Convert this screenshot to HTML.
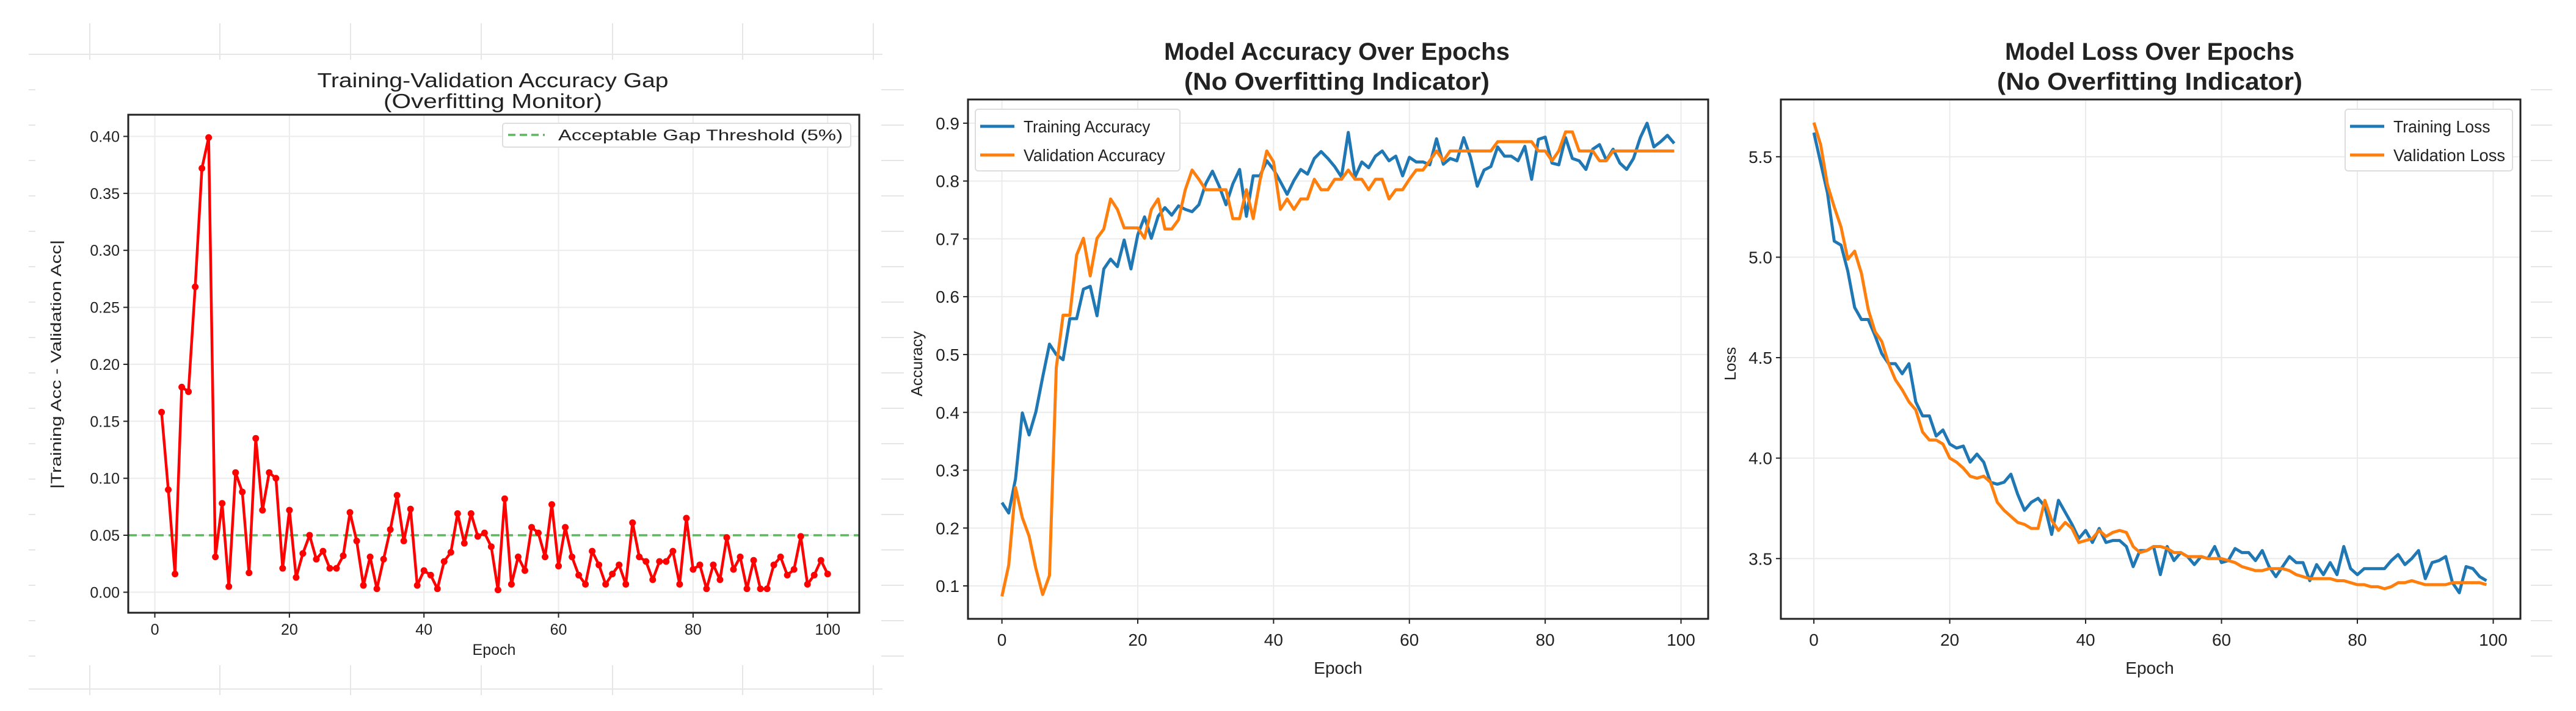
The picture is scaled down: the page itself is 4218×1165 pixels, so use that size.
<!DOCTYPE html>
<html><head><meta charset="utf-8"><style>
html,body{margin:0;padding:0;background:#fff}
svg{display:block}
text{font-family:"Liberation Sans","DejaVu Sans",sans-serif;fill:#222}
</style></head><body>
<svg id="root" width="4218" height="1165" viewBox="0 0 4218 1165" xmlns="http://www.w3.org/2000/svg">
<g id="deco"></g>
<g id="p1"></g>
<g id="p2"></g>
<g id="p3"></g>
</svg>
<script>
const gapEpochs = Array.from({length:100},(_,i)=>i+1);
const gapValues = [0.158,0.090,0.016,0.180,0.176,0.268,0.372,0.399,0.031,0.078,0.005,0.105,0.088,0.017,0.135,0.072,0.105,0.100,0.021,0.072,0.013,0.034,0.050,0.029,0.036,0.021,0.021,0.032,0.070,0.045,0.006,0.031,0.003,0.029,0.055,0.085,0.045,0.073,0.006,0.019,0.015,0.003,0.027,0.035,0.069,0.043,0.069,0.049,0.052,0.040,0.002,0.082,0.007,0.031,0.019,0.057,0.052,0.031,0.077,0.023,0.057,0.031,0.015,0.007,0.036,0.024,0.007,0.016,0.024,0.007,0.061,0.031,0.027,0.011,0.027,0.027,0.036,0.007,0.065,0.020,0.024,0.003,0.024,0.011,0.048,0.020,0.031,0.003,0.028,0.003,0.003,0.024,0.031,0.015,0.020,0.049,0.007,0.015,0.028,0.016];
const gapThreshold = 0.05;
const gapYTicks = [0,0.05,0.10,0.15,0.20,0.25,0.30,0.35,0.40];
const epochTicks = [0,20,40,60,80,100];
const epochs = Array.from({length:100},(_,i)=>i);
const trainAcc = [0.244,0.226,0.285,0.399,0.361,0.401,0.461,0.518,0.500,0.491,0.562,0.562,0.613,0.618,0.567,0.648,0.665,0.652,0.698,0.648,0.707,0.738,0.701,0.739,0.754,0.741,0.757,0.751,0.747,0.759,0.795,0.817,0.791,0.759,0.795,0.820,0.739,0.809,0.809,0.835,0.820,0.799,0.777,0.801,0.820,0.812,0.839,0.851,0.839,0.825,0.807,0.884,0.807,0.833,0.823,0.843,0.852,0.835,0.843,0.809,0.841,0.833,0.833,0.828,0.873,0.829,0.839,0.835,0.875,0.841,0.791,0.819,0.825,0.859,0.843,0.843,0.835,0.860,0.803,0.872,0.876,0.831,0.828,0.875,0.839,0.835,0.820,0.855,0.863,0.836,0.855,0.831,0.820,0.839,0.875,0.900,0.859,0.868,0.879,0.865];
const valAcc = [0.082,0.136,0.270,0.218,0.186,0.130,0.085,0.118,0.477,0.568,0.568,0.672,0.701,0.636,0.701,0.717,0.769,0.751,0.719,0.719,0.719,0.701,0.751,0.769,0.717,0.717,0.733,0.785,0.819,0.803,0.785,0.785,0.785,0.785,0.735,0.735,0.785,0.735,0.801,0.852,0.833,0.751,0.769,0.751,0.769,0.769,0.803,0.785,0.785,0.803,0.803,0.819,0.803,0.803,0.785,0.803,0.803,0.769,0.785,0.785,0.803,0.819,0.819,0.835,0.852,0.835,0.852,0.852,0.852,0.852,0.852,0.852,0.852,0.868,0.868,0.868,0.868,0.868,0.868,0.852,0.852,0.835,0.852,0.885,0.885,0.852,0.852,0.852,0.835,0.835,0.852,0.852,0.852,0.852,0.852,0.852,0.852,0.852,0.852,0.852];
const accYTicks = [0.1,0.2,0.3,0.4,0.5,0.6,0.7,0.8,0.9];
const trainLoss = [5.62,5.47,5.32,5.08,5.06,4.93,4.75,4.69,4.69,4.61,4.52,4.47,4.47,4.42,4.47,4.28,4.21,4.21,4.11,4.14,4.07,4.05,4.06,3.98,4.02,3.98,3.88,3.87,3.88,3.92,3.82,3.74,3.78,3.80,3.76,3.62,3.79,3.73,3.67,3.60,3.64,3.58,3.65,3.58,3.59,3.59,3.56,3.46,3.54,3.54,3.56,3.42,3.56,3.49,3.53,3.51,3.47,3.51,3.50,3.56,3.48,3.49,3.55,3.53,3.53,3.49,3.54,3.46,3.41,3.46,3.51,3.48,3.48,3.39,3.47,3.42,3.48,3.42,3.56,3.45,3.42,3.45,3.45,3.45,3.45,3.49,3.52,3.47,3.50,3.54,3.40,3.48,3.49,3.51,3.38,3.33,3.46,3.45,3.41,3.39];
const valLoss = [5.67,5.56,5.36,5.25,5.15,4.99,5.03,4.92,4.74,4.63,4.58,4.47,4.39,4.34,4.28,4.24,4.13,4.09,4.09,4.07,4.00,3.98,3.95,3.91,3.90,3.91,3.88,3.78,3.74,3.71,3.68,3.67,3.65,3.65,3.79,3.69,3.64,3.68,3.65,3.58,3.59,3.60,3.64,3.61,3.63,3.64,3.63,3.56,3.53,3.54,3.56,3.56,3.55,3.53,3.53,3.51,3.51,3.51,3.50,3.50,3.50,3.49,3.48,3.46,3.45,3.44,3.44,3.45,3.45,3.45,3.44,3.42,3.41,3.40,3.40,3.40,3.40,3.39,3.39,3.38,3.37,3.37,3.36,3.36,3.35,3.36,3.38,3.38,3.39,3.38,3.37,3.37,3.37,3.37,3.38,3.38,3.38,3.38,3.38,3.37];
const lossYTicks = [3.5,4.0,4.5,5.0,5.5];

const NS="http://www.w3.org/2000/svg";
function mk(parent,tag,attrs,txt){const e=document.createElementNS(NS,tag);for(const k in attrs)e.setAttribute(k,attrs[k]);if(txt!==undefined)e.textContent=txt;parent.appendChild(e);return e;}

const deco=document.getElementById('deco');
[89,1129].forEach(y=>{const l=mk(deco,'line',{x1:47,x2:1445,y1:y,y2:y,stroke:'#e6e6e6','stroke-width':2});

});
[147,360,574,788,1003,1216,1430].forEach(x=>{[[38,98],[1090,1139]].forEach(r=>{const l=mk(deco,'line',{x1:x,x2:x,y1:r[0],y2:r[1],stroke:'#e6e6e6','stroke-width':2});

});});
for(let y=147;y<1080;y+=58){[[47,58],[1443,1480],[4144,4179]].forEach(r=>{const l=mk(deco,'line',{x1:r[0],x2:r[1],y1:y,y2:y,stroke:'#e6e6e6','stroke-width':2});

});}

function chart(g,cfg){
  const {L,R,T,B,xmin,xmax,ymin,ymax}=cfg;
  const sx=v=>L+(v-xmin)/(xmax-xmin)*(R-L);
  const sy=v=>B-(v-ymin)/(ymax-ymin)*(B-T);
  mk(g,'rect',{x:L,y:T,width:R-L,height:B-T,fill:'#fff'});
  cfg.xticks.forEach(t=>{
    const gl=mk(g,'line',{x1:sx(t),x2:sx(t),y1:T,y2:B,stroke:'#ebebeb','stroke-width':2});
    
    
    mk(g,'line',{x1:sx(t),x2:sx(t),y1:B,y2:B+8,stroke:'#222','stroke-width':2});
    const tx=mk(g,'text',{x:sx(t),y:B+cfg.xtickDy,'text-anchor':'middle','font-size':cfg.tickFs},String(t));
    
    
  });
  cfg.yticks.forEach(t=>{
    const gl=mk(g,'line',{x1:L,x2:R,y1:sy(t),y2:sy(t),stroke:'#ebebeb','stroke-width':2});
    
    
    mk(g,'line',{x1:L-8,x2:L,y1:sy(t),y2:sy(t),stroke:'#222','stroke-width':2});
    const tx=mk(g,'text',{x:L-14,y:sy(t)+cfg.tickFs*0.36,'text-anchor':'end','font-size':cfg.tickFs},t.toFixed(cfg.ydec));
    
    
  });
  return {sx,sy};
}
function frame(g,c){const r=mk(g,'rect',{x:c.L,y:c.T,width:c.R-c.L,height:c.B-c.T,fill:'none',stroke:'#222','stroke-width':3});

}
function series(g,xs,ys,a,color,w,name){
  const p=mk(g,'polyline',{points:xs.map((x,i)=>a.sx(x)+','+a.sy(ys[i])).join(' '),fill:'none',stroke:color,'stroke-width':w,'stroke-linejoin':'round'});
  
  
  return p;
}

const g1=document.getElementById('p1');
const c1={L:210,R:1407,T:188,B:1004,xmin:-3.95,xmax:104.7,ymin:-0.018,ymax:0.419,xticks:epochTicks,yticks:gapYTicks,tickFs:25,xtickDy:36,ydec:2};
const a1=chart(g1,c1);
const th=mk(g1,'line',{x1:c1.L,x2:c1.R,y1:a1.sy(gapThreshold),y2:a1.sy(gapThreshold),stroke:'#5cb85c','stroke-width':3.5,'stroke-dasharray':'14,8'});


series(g1,gapEpochs,gapValues,a1,'#ff0000',4.5,'gap-line');
gapEpochs.forEach((e,i)=>{const m=mk(g1,'circle',{cx:a1.sx(e),cy:a1.sy(gapValues[i]),r:5.5,fill:'#ff0000'});

});
frame(g1,c1);
const lg1=mk(g1,'g',{});


mk(lg1,'rect',{x:823,y:202,width:570,height:39,rx:4,fill:'#fff',stroke:'#ddd','stroke-width':2});
mk(lg1,'line',{x1:832,x2:892,y1:221,y2:221,stroke:'#5cb85c','stroke-width':3.5,'stroke-dasharray':'12,7'});
mk(lg1,'text',{x:914,y:230,'font-size':25,textLength:466,lengthAdjust:'spacingAndGlyphs'},'Acceptable Gap Threshold (5%)');
let t;
t=mk(g1,'text',{x:807,y:143,'text-anchor':'middle','font-size':33,textLength:575,lengthAdjust:'spacingAndGlyphs'},'Training-Validation Accuracy Gap');


mk(g1,'text',{x:807,y:177,'text-anchor':'middle','font-size':33,textLength:358,lengthAdjust:'spacingAndGlyphs'},'(Overfitting Monitor)');
t=mk(g1,'text',{x:809,y:1073,'text-anchor':'middle','font-size':25},'Epoch');


t=mk(g1,'text',{x:0,y:0,'text-anchor':'middle','font-size':24,transform:'translate(100,597) rotate(-90)',textLength:408,lengthAdjust:'spacingAndGlyphs'},'|Training Acc - Validation Acc|');



function bigTitle(g,cx,l1,l2,w1,w2){
  let a=mk(g,'text',{x:cx,y:98,'text-anchor':'middle','font-size':40,'font-weight':'bold',textLength:w1,lengthAdjust:'spacingAndGlyphs'},l1);
  
  
  mk(g,'text',{x:cx,y:147,'text-anchor':'middle','font-size':40,'font-weight':'bold',textLength:w2,lengthAdjust:'spacingAndGlyphs'},l2);
}
function legend2(g,x,w,names){
  const lg=mk(g,'g',{});
  
  
  mk(lg,'rect',{x:x,y:179,width:w,height:101,rx:5,fill:'#fff',stroke:'#ddd','stroke-width':2});
  names.forEach((n,i)=>{const y=207+i*47;
    mk(lg,'line',{x1:x+8,x2:x+64,y1:y,y2:y,stroke:i?'#ff7f0e':'#1f77b4','stroke-width':5});
    const tt=mk(lg,'text',{x:x+79,y:y+10,'font-size':28,textLength:n.length*12.2,lengthAdjust:'spacingAndGlyphs'},n);
    
    
  });
}

const g2=document.getElementById('p2');
const c2={L:1585,R:2797,T:163,B:1014,xmin:-5,xmax:104,ymin:0.043,ymax:0.941,xticks:epochTicks,yticks:accYTicks,tickFs:28,xtickDy:44,ydec:1};
const a2=chart(g2,c2);
series(g2,epochs,trainAcc,a2,'#1f77b4',5,'training-accuracy-line');
series(g2,epochs,valAcc,a2,'#ff7f0e',5,'validation-accuracy-line');
frame(g2,c2);
legend2(g2,1597,335,['Training Accuracy','Validation Accuracy']);
bigTitle(g2,2189,'Model Accuracy Over Epochs','(No Overfitting Indicator)',566,500);
t=mk(g2,'text',{x:2191,y:1104,'text-anchor':'middle','font-size':28},'Epoch');


t=mk(g2,'text',{x:0,y:0,'text-anchor':'middle','font-size':26,transform:'translate(1510,596) rotate(-90)'},'Accuracy');



const g3=document.getElementById('p3');
const c3={L:2916,R:4127,T:163,B:1014,xmin:-4.86,xmax:104,ymin:3.20,ymax:5.785,xticks:epochTicks,yticks:lossYTicks,tickFs:28,xtickDy:44,ydec:1};
const a3=chart(g3,c3);
series(g3,epochs,trainLoss,a3,'#1f77b4',5,'training-loss-line');
series(g3,epochs,valLoss,a3,'#ff7f0e',5,'validation-loss-line');
frame(g3,c3);
legend2(g3,3840,274,['Training Loss','Validation Loss']);
bigTitle(g3,3520,'Model Loss Over Epochs','(No Overfitting Indicator)',474,500);
t=mk(g3,'text',{x:3520,y:1104,'text-anchor':'middle','font-size':28},'Epoch');


t=mk(g3,'text',{x:0,y:0,'text-anchor':'middle','font-size':26,transform:'translate(2842,596) rotate(-90)'},'Loss');


</script>
</body></html>
